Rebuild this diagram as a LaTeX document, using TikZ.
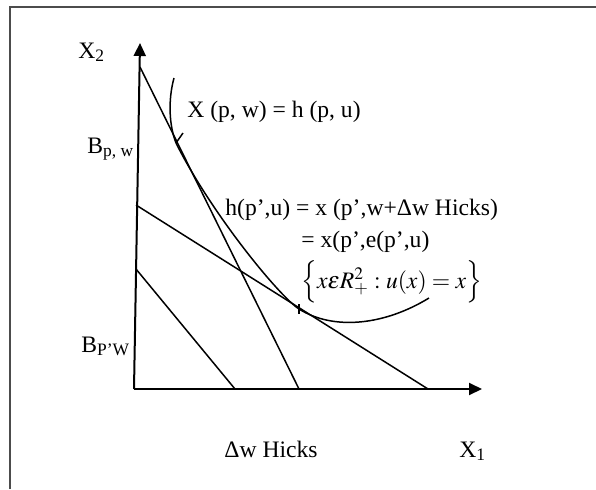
\documentclass[tikz,border=0pt]{standalone}
\usepackage{mathptmx}
\usepackage{fontspec}
\setmainfont{Liberation Serif}
\usetikzlibrary{arrows.meta}

\begin{document}
\begin{tikzpicture}[
      x=0.5pt, y=-0.5pt,
      axis/.style={line width=1pt, -{Triangle[length=6.5pt, width=6pt]}},
      budget/.style={line width=0.75pt},
      curve/.style={line width=0.75pt},
      lbl/.style={anchor=base west, inner sep=0pt, font=\fontsize{11.8}{14}\selectfont},
    ]
    \useasboundingbox (0,0) rectangle (596,489);
    % frame
    \draw[line width=1pt, black!70] (9.5,489) -- (9.5,7) -- (596,7);

    % axes
    \coordinate (O) at (134,389);
    \coordinate (ytop) at (140,43);
    \coordinate (xtip) at (482,389);
    \draw[axis] (O) -- (ytop);
    \draw[axis] (O) -- (xtip);

    % budget lines
    \coordinate (bpw) at (140,67);
    \coordinate (bpwx) at (299,389);
    \coordinate (hicks) at (136,205);
    \coordinate (hicksx) at (428,389);
    \coordinate (bpp) at (136,269);
    \coordinate (bppx) at (235,389);
    \draw[budget] (bpw) -- (bpwx);
    \draw[budget] (hicks) -- (hicksx);
    \draw[budget] (bpp) -- (bppx);

    % indifference curve
    \coordinate (xpw) at (176,143);
    \coordinate (hpu) at (299,309);
    \draw[curve] (174,78) .. controls (168,100) and (169,125) .. (xpw);
    \draw[curve] (xpw) .. controls (211,213) and (279,296) .. (hpu)
                 .. controls (334,331) and (385,325) .. (429,298);
    \draw[curve] (xpw) -- (183,133);
    \draw[curve] (299,304) -- (299,314);

    % labels
    \node[lbl] (x2) at (78,58) {X\textsubscript{2}};
    \node[lbl] (x1) at (459,457) {X\textsubscript{1}};
    \node[lbl] (bpwlbl) at (87,153) {B\textsubscript{p, w}};
    \node[lbl] (bpplbl) at (81,352) {B\textsubscript{P’W}};
    \node[lbl] (xpwlbl) at (187,117) {X (p, w) = h (p, u)};
    \node[lbl] (hpulbl) at (225,215) {h(p’,u) = x (p’,w+Δw Hicks)};
    \node[lbl] (epulbl) at (301,247) {= x(p’,e(p’,u)};
    \node[lbl] (setlbl) at (301,288) {$\Big\{x\varepsilon R^2_+ : u(x) = x\Big\}$};
    \node[lbl] (dwlbl) at (224,457) {Δw Hicks};
  \end{tikzpicture}
\end{document}
